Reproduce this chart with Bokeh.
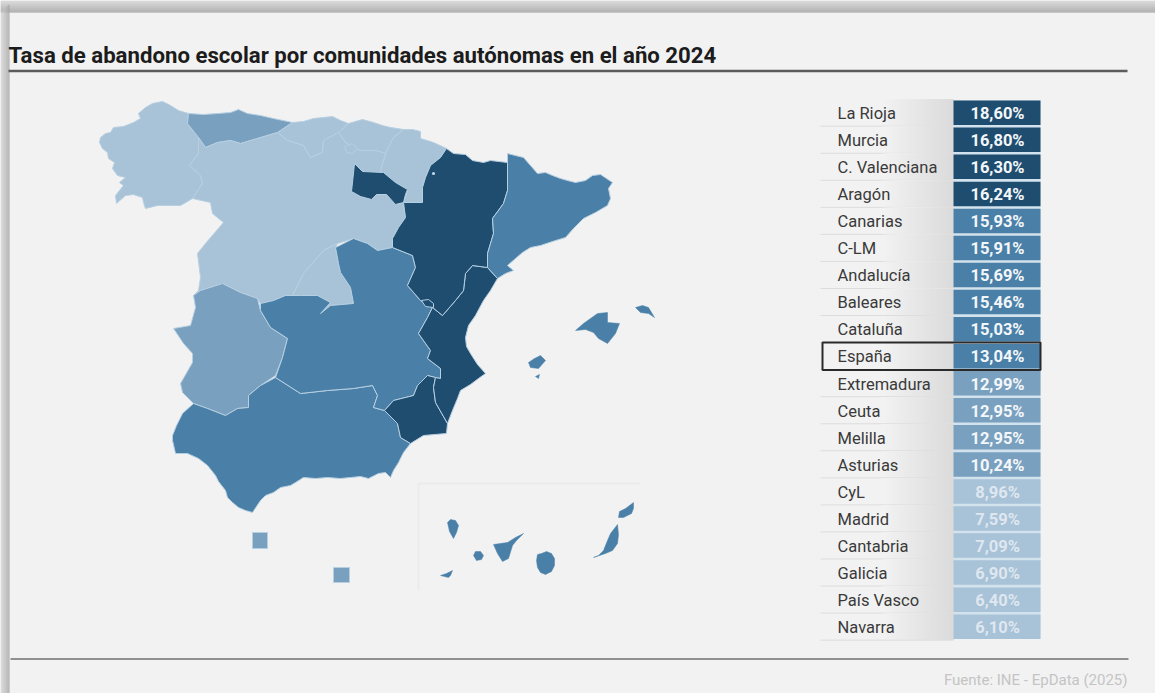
from bokeh.embed import file_html
from bokeh.models import Range1d
from bokeh.plotting import figure
from bokeh.resources import INLINE
from bokeh.core.properties import value

TITLE = "Tasa de abandono escolar por comunidades autónomas en el año 2024"
SOURCE = "Fuente: INE - EpData (2025)"

# Ranking table
names = ["La Rioja", "Murcia", "C. Valenciana", "Aragón", "Canarias", "C-LM", "Andalucía",
         "Baleares", "Cataluña", "España", "Extremadura", "Ceuta", "Melilla", "Asturias",
         "CyL", "Madrid", "Cantabria", "Galicia", "País Vasco", "Navarra"]
rates = [18.60, 16.80, 16.30, 16.24, 15.93, 15.91, 15.69, 15.46, 15.03, 13.04, 12.99,
         12.95, 12.95, 10.24, 8.96, 7.59, 7.09, 6.90, 6.40, 6.10]


def shade(rate):
    if rate >= 16:
        return "#1f4d70"
    if rate >= 13:
        return "#4a80a8"
    if rate >= 10:
        return "#7aa0c0"
    return "#a8c2d8"


rate_by_name = dict(zip(names, rates))

# Region outlines, in page coordinates
regions = {
    "Galicia": [(100, 137), (105, 133), (110, 132), (113, 127), (123, 126), (133, 122), (140, 118), (138, 113),
                (145, 107), (152, 103), (162, 101), (170, 105), (178, 110), (188, 113), (187, 123), (198, 137),
                (198, 153), (189, 165), (200, 175), (202, 183), (192, 198), (180, 205), (157, 205), (145, 208),
                (143, 202), (142, 197), (133, 194), (125, 195), (116, 203), (115, 195), (123, 185), (119, 182),
                (125, 177), (117, 175), (112, 168), (114, 162), (108, 158), (107, 152), (102, 148), (99, 142)],
    "Asturias": [(188, 113), (203, 114), (217, 113), (230, 112), (238, 109), (247, 113), (260, 115), (273, 118),
                 (292, 122), (277, 132), (257, 138), (240, 143), (230, 140), (217, 142), (205, 147), (198, 137),
                 (187, 123)],
    "Cantabria": [(292, 122), (303, 121), (313, 118), (323, 117), (332, 116), (340, 120), (348, 123), (338, 132),
                  (323, 140), (322, 152), (310, 157), (303, 145), (287, 140), (277, 132)],
    "País Vasco": [(348, 123), (362, 119), (373, 122), (382, 125), (390, 127), (403, 129), (393, 137), (385, 153),
                   (375, 150), (360, 150), (345, 142), (338, 132)],
    "Navarra": [(403, 129), (412, 129), (420, 131), (420, 138), (433, 142), (446, 148), (440, 157), (430, 165),
                (425, 177), (422, 187), (422, 202), (403, 202), (407, 190), (393, 183), (380, 170), (385, 153),
                (393, 137)],
    "CyL": [(198, 137), (205, 147), (217, 142), (230, 140), (240, 143), (257, 138), (277, 132), (287, 140),
            (303, 145), (310, 157), (322, 152), (323, 140), (338, 132), (345, 142), (360, 150), (375, 150),
            (385, 153), (380, 170), (393, 183), (407, 190), (403, 202), (405, 217), (398, 227), (392, 238),
            (392, 247), (377, 250), (367, 243), (353, 238), (337, 243), (323, 250), (303, 273), (292, 295),
            (285, 295), (273, 300), (260, 303), (257, 298), (240, 292), (222, 283), (200, 290), (193, 295),
            (198, 290), (200, 277), (197, 253), (205, 243), (223, 222), (212, 213), (210, 202), (192, 198),
            (202, 183), (200, 175), (189, 165), (198, 153)],
    "Madrid": [(292, 295), (303, 273), (323, 250), (337, 243), (335, 247), (338, 263), (340, 272), (350, 287),
               (353, 303), (330, 305), (320, 313), (330, 302), (317, 295), (300, 295)],
    "Extremadura": [(193, 295), (200, 290), (222, 283), (240, 292), (257, 298), (260, 310), (270, 327), (287, 338),
                    (282, 357), (275, 375), (260, 385), (248, 395), (248, 407), (237, 408), (225, 415), (207, 408),
                    (193, 403), (182, 392), (180, 383), (192, 362), (192, 353), (183, 343), (173, 328), (190, 325),
                    (195, 307)],
    "Andalucía": [(275, 377), (300, 393), (327, 390), (353, 388), (372, 385), (377, 395), (373, 407), (384, 410),
                  (397, 423), (400, 437), (410, 443), (403, 452), (398, 462), (393, 470), (390, 477), (385, 472),
                  (378, 473), (368, 478), (360, 476), (350, 477), (340, 478), (327, 477), (315, 478), (303, 477),
                  (295, 482), (290, 485), (280, 487), (273, 492), (265, 495), (260, 500), (252, 512), (245, 510),
                  (238, 507), (232, 502), (227, 497), (225, 490), (218, 481), (215, 475), (207, 465), (198, 458),
                  (187, 453), (175, 453), (172, 440), (172, 435), (176, 425), (182, 413), (193, 403), (207, 408),
                  (225, 415), (237, 408), (248, 407), (248, 395), (260, 385)],
    "C-LM": [(260, 303), (273, 300), (285, 295), (300, 295), (317, 295), (330, 302), (320, 313), (330, 305),
             (353, 303), (350, 287), (340, 272), (338, 263), (335, 247), (353, 238), (367, 243), (377, 250),
             (392, 247), (412, 255), (415, 267), (407, 285), (420, 300), (432, 307), (427, 317), (418, 333),
             (430, 350), (427, 358), (440, 368), (440, 378), (435, 377), (427, 375), (417, 385), (413, 395),
             (393, 400), (384, 410), (373, 407), (377, 395), (372, 385), (353, 388), (327, 390), (300, 393),
             (275, 377), (282, 357), (287, 338), (270, 327), (260, 310)],
    "Murcia": [(384, 410), (393, 400), (413, 395), (417, 385), (427, 375), (435, 377), (433, 387), (435, 402),
               (447, 423), (446, 433), (423, 435), (410, 443), (400, 437), (397, 423)],
    "C. Valenciana": [(472, 265), (487, 267), (497, 278), (490, 290), (483, 300), (475, 315), (468, 325), (465, 337),
                      (466, 346), (470, 353), (477, 364), (485, 373), (478, 378), (470, 384), (460, 390), (457, 398),
                      (452, 410), (447, 423), (435, 402), (433, 387), (435, 377), (440, 378), (440, 368), (427, 358),
                      (430, 350), (418, 333), (427, 317), (432, 307), (442, 315), (455, 300), (463, 290), (465, 273)],
    "Aragón": [(446, 148), (453, 153), (465, 154), (472, 160), (483, 162), (490, 160), (507, 162), (507, 190),
               (503, 203), (492, 218), (493, 233), (487, 253), (487, 267), (472, 265), (465, 273), (463, 290),
               (455, 300), (442, 315), (432, 307), (420, 300), (407, 285), (415, 267), (412, 255), (392, 247),
               (392, 238), (398, 227), (405, 217), (403, 202), (422, 202), (422, 187), (425, 177), (430, 165),
               (440, 157)],
    "La Rioja": [(354, 163), (362, 171), (383, 172), (395, 182), (407, 189), (405, 194), (403, 202), (395, 204),
                 (386, 194), (376, 194), (371, 199), (360, 196), (351, 191)],
    "Cataluña": [(507, 153), (515, 155), (523, 157), (530, 165), (537, 173), (545, 172), (552, 175), (560, 178),
                 (567, 180), (575, 182), (585, 180), (592, 175), (600, 174), (606, 178), (612, 182), (608, 188),
                 (610, 198), (607, 205), (595, 212), (583, 218), (573, 228), (565, 237), (552, 241), (540, 245),
                 (530, 247), (522, 252), (515, 258), (507, 265), (513, 270), (505, 273), (497, 278), (487, 267),
                 (487, 253), (493, 233), (492, 218), (503, 203), (507, 190), (507, 162)],
    "Ceuta": [(252, 532), (267, 532), (267, 548), (252, 548)],
    "Melilla": [(333, 567), (349, 567), (349, 582), (333, 582)],
}

# Island groups and the small enclaves: each entry is one outline
islands = {
    "Baleares": [
        [(575, 330), (583, 323), (597, 313), (607, 312), (607, 322), (619, 323), (615, 333), (607, 343), (598, 338),
         (593, 332), (585, 329)],
        [(635, 307), (642, 305), (648, 307), (654, 317), (648, 313), (640, 312)],
        [(528, 362), (534, 358), (540, 355), (545, 360), (538, 368), (530, 367)],
        [(535, 376), (539, 374), (538, 378)],
    ],
    "Canarias": [
        [(447, 522), (450, 519), (455, 520), (458, 525), (456, 532), (453, 538), (449, 531)],
        [(440, 575), (446, 573), (452, 570), (450, 575), (448, 577)],
        [(473, 555), (475, 551), (480, 551), (483, 555), (481, 559), (476, 560)],
        [(493, 544), (507, 542), (515, 537), (523, 533), (516, 540), (512, 545), (508, 558), (502, 561), (497, 553)],
        [(536, 560), (537, 554), (541, 553), (546, 551), (551, 553), (554, 558), (554, 565), (551, 571), (545, 574),
         (540, 572), (537, 567)],
        [(593, 557), (598, 555), (603, 550), (607, 540), (610, 533), (617, 524), (618, 534), (617, 543), (612, 550),
         (605, 553)],
        [(618, 517), (619, 511), (625, 508), (633, 502), (633, 508), (631, 513), (623, 517)],
    ],
}
enclaves = {
    "CyL": [[(344, 146), (352, 143), (357, 148), (352, 153), (346, 152)]],
    "C. Valenciana": [[(421, 300), (428, 299), (433, 303), (433, 307), (425, 306)]],
}

p = figure(width=1155, height=693, output_backend="svg", toolbar_location=None,
           x_range=Range1d(0, 1155), y_range=Range1d(693, 0),
           min_border=0, outline_line_color=None, background_fill_color="#f2f2f2",
           border_fill_color="#f2f2f2")
p.axis.visible = False
p.grid.visible = False


def grey_hex(level):
    return f"#{level:02x}{level:02x}{level:02x}"


# Shaded frame along the top and left edges, darkest next to the panel
for k in range(12):
    p.quad(left=0, right=1155, top=k, bottom=k + 1, fill_color=grey_hex(212 - k * 5), line_color=None)
for k in range(9):
    p.quad(left=k, right=k + 1, top=12 - k, bottom=693, fill_color=grey_hex(214 - k * 6), line_color=None)

# Inset frame round the Canary Islands
p.line([418, 418, 640], [590, 483, 483], line_color="#ebebeb", line_width=2)

for name, outline in regions.items():
    xs, ys = zip(*outline)
    p.patch(list(xs), list(ys), fill_color=shade(rate_by_name[name]), line_color="#b6cfe1", line_width=1)

for name, parts in enclaves.items():
    for outline in parts:
        xs, ys = zip(*outline)
        p.patch(list(xs), list(ys), fill_color=shade(rate_by_name[name]), line_color="#b6cfe1", line_width=1)

for name, parts in islands.items():
    for outline in parts:
        xs, ys = zip(*outline)
        p.patch(list(xs), list(ys), fill_color=shade(rate_by_name[name]), line_color=shade(rate_by_name[name]),
                line_width=0.5)

# Small light dot inside Aragón
p.scatter([433], [173], size=3, fill_color="#c8dae8", line_color=None)

# Title, rules and source
p.text([8], [54], text=[TITLE], text_font=value("Roboto"), text_font_size="22.2px", text_font_style="bold",
       text_color="#1c1c1c", text_baseline="middle")
p.line([8, 1127], [70.5, 70.5], line_color="#5c5c5c", line_width=2.5)
p.line([10, 1128], [658.5, 658.5], line_color="#909090", line_width=2)
p.text([1127], [679], text=[SOURCE], text_font=value("Roboto"), text_font_size="15px", text_color="#c4c4c4",
       text_align="right", text_baseline="middle")

# Table rows
ROW_TOP, ROW_STEP, ROW_H = 100, 27.05, 24.5
p.quad(left=953, right=1040, top=ROW_TOP, bottom=ROW_TOP + 20 * ROW_STEP - 2.5, fill_color="#d3e3ee",
       line_color=None)
for i, (name, rate) in enumerate(zip(names, rates)):
    top = ROW_TOP + i * ROW_STEP
    for k in range(24):
        p.quad(left=881 + k * 3, right=953, top=top - 1, bottom=top + ROW_STEP - 2,
               fill_color=grey_hex(242 - k), line_color=None)
    p.line([820, 953], [top + ROW_H + 1.2] * 2, line_color="#dcdcdc", line_width=1)
    p.quad(left=953, right=1040, top=top, bottom=top + ROW_H, fill_color=shade(rate), line_color=None)
    p.text([837], [top + 13], text=[name], text_font=value("Roboto"), text_font_size="16.5px",
           text_color="#3a3a3a", text_baseline="middle")
    label = f"{rate:.2f}%".replace(".", ",")
    p.text([997], [top + 13], text=[label], text_font=value("Roboto"), text_font_size="16.5px",
           text_font_style="bold", text_color="#f4f7fa" if rate >= 10 else "#dfe7ef", text_align="center",
           text_baseline="middle")

# National average highlighted
spain = names.index("España")
p.quad(left=822, right=1040, top=ROW_TOP + spain * ROW_STEP - 1.5, bottom=ROW_TOP + spain * ROW_STEP + ROW_H + 1.5,
       fill_color=None, line_color="#2a2a2a", line_width=2)

open("out.html", "w").write(file_html(p, INLINE))
